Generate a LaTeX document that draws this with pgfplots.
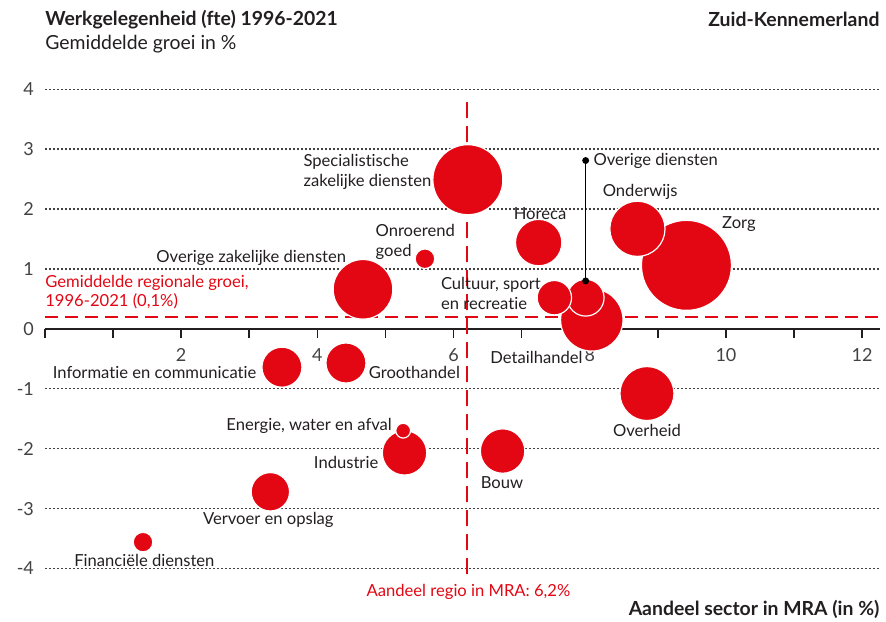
\documentclass[border=0pt]{standalone}
\usepackage{fontspec}
\setmainfont{Lato}[Ligatures=NoCommon]
\usepackage{pgfplots}
\pgfplotsset{compat=1.18}
\usepackage{pgfplotstable}
\definecolor{mrared}{HTML}{E30613}
\definecolor{txt}{HTML}{231F20}

% sector, aandeel in MRA (x), groei (y), straal bubbel (pt)
\pgfplotstableread{
naam x y r
Zorg 9.42 1.06 22.5
Specialistisch 6.21 2.49 17.5
Detailhandel 8.03 0.15 15.6
OverigZakelijk 4.67 0.66 14.9
Onderwijs 8.70 1.67 13.8
Overheid 8.84 -1.08 13.5
Horeca 7.25 1.44 11.6
Bouw 6.72 -2.04 11.1
Industrie 5.28 -2.07 11.1
Informatie 3.48 -0.64 10.0
Groothandel 4.42 -0.57 10.0
Vervoer 3.31 -2.72 9.6
OverigeDiensten 7.94 0.52 9.2
Cultuur 7.48 0.52 8.6
Financieel 1.44 -3.56 4.9
Onroerend 5.58 1.17 4.9
Energie 5.26 -1.70 3.7
}\bubbles

\newcommand{\lbl}{\fontsize{8.3}{9.6}\selectfont}
\newcommand{\tickfont}{\fontsize{9}{10}\selectfont}
\newcommand{\grootfont}{\fontsize{9.7}{11}\selectfont}

\begin{document}
\begin{tikzpicture}
\begin{axis}[
  x=34.05pt, y=29.95pt,
  xmin=0, xmax=12.26, ymin=-4.1, ymax=4.1,
  clip=false,
  axis x line=middle, axis y line=left,
  x axis line style={-, draw=txt, line width=0.8pt},
  y axis line style={draw=none},
  hide obscured x ticks=false, hide obscured y ticks=false,
  xtick={0,...,12}, xticklabels={,,2,,4,,6,,8,,10,,12},
  ytick={-4,...,4}, yticklabels={-4,-3,-2,-1,0,1,2,3,4},
  tick align=outside, major tick length=4.5pt,
  xtick style={draw=txt, line width=0.8pt},
  ytick style={draw=none},
  ticklabel style={font=\tickfont, text=txt!85},
  xticklabel style={yshift=-2pt},
  yticklabel style={xshift=2.5pt},
  ymajorgrids,
  major grid style={draw=txt!85, line width=0.65pt, dash pattern=on 0.9pt off 1.1pt},
]
% referentielijnen
\addplot[mrared, line width=1pt, dash pattern=on 6.5pt off 3.5pt, forget plot]
  coordinates {(0,0.19) (12.26,0.19)};
\addplot[mrared, line width=1pt, dash pattern=on 8pt off 4pt, forget plot]
  coordinates {(6.2,-4.1) (6.2,3.9)};

% bubbels
\addplot[scatter, only marks, mark=*,
  scatter/use mapped color={draw=white, fill=mrared},
  mark options={line width=0.6pt},
  visualization depends on={\thisrow{r} \as \rad},
  scatter/@pre marker code/.append style={/tikz/mark size=\rad},
] table[x=x, y=y] {\bubbles};

% verwijslijn overige diensten
\addplot[black, line width=0.8pt, mark=*, mark size=1.3pt]
  coordinates {(7.94,2.81) (7.94,0.80)};

% labels
\begin{scope}[every node/.style={font=\lbl, text=txt, inner sep=0pt}]
\node[anchor=east, align=left] at (axis cs:5.68,2.62) {Specialistische\\zakelijke diensten};
\node at (axis cs:7.27,1.93) {Horeca};
\node at (axis cs:8.74,2.28) {Onderwijs};
\node at (axis cs:10.19,1.75) {Zorg};
\node[anchor=west, align=left] at (axis cs:4.85,1.45) {Onroerend\\goed};
\node at (axis cs:3.03,1.18) {Overige zakelijke diensten};
\node[anchor=west, align=left] at (axis cs:5.81,0.59) {Cultuur, sport\\en recreatie};
\node[anchor=west] at (axis cs:8.05,2.80) {Overige diensten};
\node[anchor=east] at (axis cs:7.9,-0.47) {Detailhandel};
\node at (axis cs:1.61,-0.735) {Informatie en communicatie};
\node[anchor=west] at (axis cs:4.75,-0.735) {Groothandel};
\node at (axis cs:8.84,-1.70) {Overheid};
\node[anchor=east] at (axis cs:5.10,-1.62) {Energie, water en afval};
\node[anchor=east] at (axis cs:4.90,-2.23) {Industrie};
\node at (axis cs:6.71,-2.56) {Bouw};
\node at (axis cs:3.28,-3.19) {Vervoer en opslag};
\node at (axis cs:1.46,-3.87) {Financiële diensten};
\node[anchor=west, align=left, text=mrared] at (axis cs:0.0,0.62) {Gemiddelde regionale groei,\\1996-2021 (0,1\%)};
\node[text=mrared] at (axis cs:6.22,-4.39) {Aandeel regio in MRA: 6,2\%};
\end{scope}

% titels
\begin{scope}[every node/.style={text=txt, inner sep=0pt}]
\node[anchor=west, font=\grootfont\bfseries] at (axis cs:0,5.16) {Werkgelegenheid (fte) 1996-2021};
\node[anchor=west, font=\grootfont] at (axis cs:0,4.76) {Gemiddelde groei in \%};
\node[anchor=east, font=\grootfont\bfseries] at (axis cs:12.26,5.16) {Zuid-Kennemerland};
\node[anchor=east, font=\grootfont\bfseries] at (axis cs:12.26,-4.69) {Aandeel sector in MRA (in \%)};
\end{scope}

\coordinate (bl) at (axis cs:-0.66,-4.89);
\coordinate (tr) at (axis cs:12.35,5.49);
\end{axis}
\pgfresetboundingbox
\path[use as bounding box] (bl) rectangle (tr);
\end{tikzpicture}
\end{document}
